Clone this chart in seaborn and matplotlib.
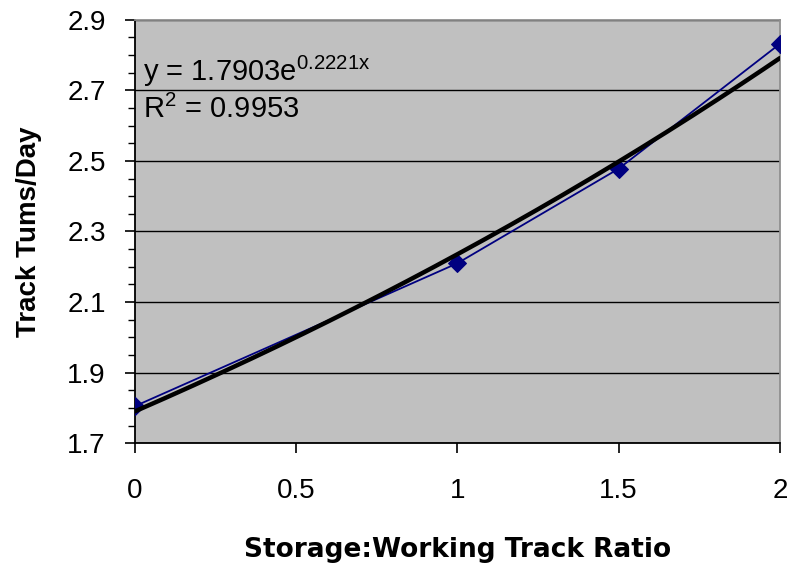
import numpy as np
import pandas as pd
import matplotlib
matplotlib.use("Agg")
import matplotlib.pyplot as plt
from matplotlib.ticker import MultipleLocator
import seaborn as sns

# Data
ratio = [0.0, 1.0, 1.5, 2.0]
turns = [1.805, 2.21, 2.478, 2.832]
# Trendline coefficients shown on the chart
trend_a = 1.7903
trend_b = 0.2221
r_squared = 0.9953
x_ticks = [0, 0.5, 1, 1.5, 2]
y_ticks = [1.7, 1.9, 2.1, 2.3, 2.5, 2.7, 2.9]

sns.set_theme(style="ticks")
plt.rcParams['font.family'] = ['Liberation Sans', 'DejaVu Sans']
plt.rcParams['mathtext.default'] = 'regular'
plt.rcParams['text.color'] = 'black'
plt.rcParams['axes.labelcolor'] = 'black'
plt.rcParams['xtick.color'] = 'black'
plt.rcParams['ytick.color'] = 'black'

df = pd.DataFrame({"ratio": ratio, "turns": turns})
tx = np.linspace(min(ratio), max(ratio), 200)
trend_df = pd.DataFrame({"ratio": tx, "turns": trend_a * np.exp(trend_b * tx)})

fig = plt.figure(figsize=(7.87, 5.66), dpi=100)
ax = fig.add_axes([0.1715, 0.217, 0.8195, 0.748])
ax.set_facecolor("#C0C0C0")

for yv in y_ticks:
    ax.axhline(yv, color="black", lw=1.0, zorder=1)

sns.lineplot(data=df, x="ratio", y="turns", ax=ax, color="#000080", lw=1.3,
             marker="D", markersize=9, markeredgecolor="#000080", zorder=3)
sns.lineplot(data=trend_df, x="ratio", y="turns", ax=ax, color="black", lw=3.2, zorder=4)

ax.set_xlim(0, 2)
ax.set_ylim(1.7, 2.9)
ax.set_xticks(x_ticks)
ax.set_xticklabels(["0", "0.5", "1", "1.5", "2"])
ax.set_yticks(y_ticks)
ax.yaxis.set_minor_locator(MultipleLocator(0.05))
ax.tick_params(axis="both", which="major", labelsize=20, length=7, width=1.2,
               direction="out", colors="black", labelcolor="black")
ax.tick_params(axis="y", which="minor", length=5, width=1.0, direction="out", colors="black")
ax.tick_params(axis="x", pad=18)
ax.tick_params(axis="y", pad=14)

for s in ["left", "bottom"]:
    ax.spines[s].set_color("black")
    ax.spines[s].set_linewidth(1.3)
for s in ["top", "right"]:
    ax.spines[s].set_visible(True)
    ax.spines[s].set_color("#909090")
    ax.spines[s].set_linewidth(1.3)

ax.set_xlabel("Storage:Working Track Ratio", fontsize=19, fontweight="bold",
              family=["DejaVu Sans"], labelpad=24, color="black")
ax.set_ylabel("Track Tums/Day", fontsize=20, fontweight="bold", labelpad=18, color="black")

ax.text(0.012, 0.878, r"y = %.4fe$^{%.4fx}$" % (trend_a, trend_b), transform=ax.transAxes,
        fontsize=21, va="center", ha="left", color="black")
ax.text(0.012, 0.788, r"R$^{2}$ = %.4f" % r_squared, transform=ax.transAxes,
        fontsize=21, va="center", ha="left", color="black")

fig.savefig("out.png", dpi=100)
